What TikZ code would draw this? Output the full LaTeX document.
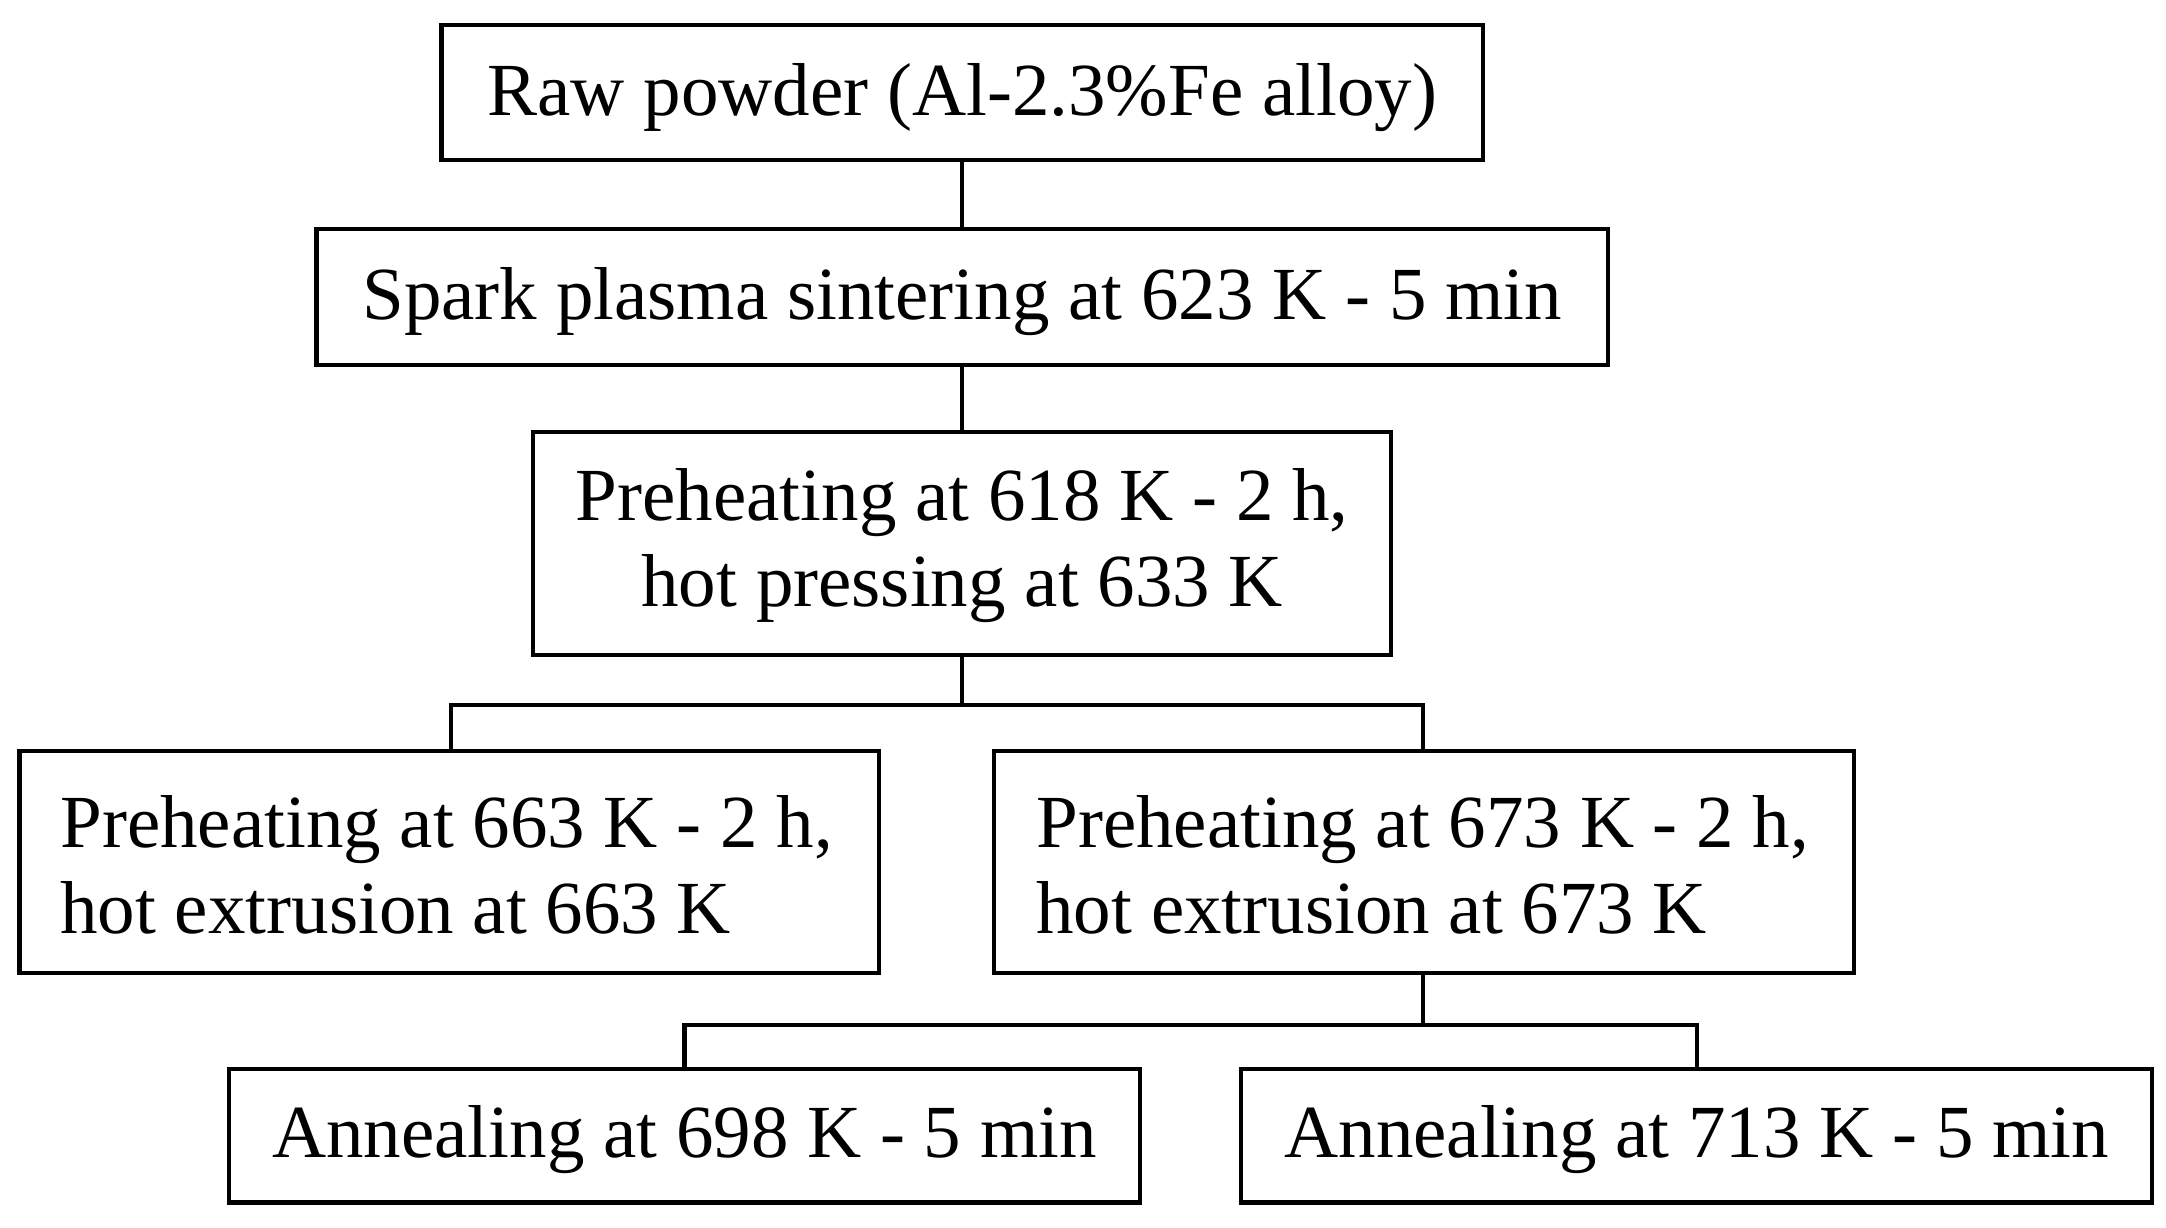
\documentclass[tikz,border=0pt]{standalone}
\usepackage{fontspec}
\setmainfont{Liberation Serif}
\begin{document}
\begin{tikzpicture}[x=1pt,y=-1pt,line width=3pt,
  bx/.style={draw,rectangle,inner sep=0pt},
  txt/.style={font=\fontsize{54}{62}\selectfont,align=left,inner sep=0pt}]
\useasboundingbox (0,0) rectangle (1560,884);
\node[bx,minimum width=750,minimum height=97] (b1) at (693,66.5) {};
\node[txt] at (693,70) {Raw powder (Al-2.3\%Fe alloy)};
\node[bx,minimum width=930,minimum height=98] (b2) at (693,214) {};
\node[txt] at (693,217) {Spark plasma sintering at 623 K - 5 min};
\node[bx,minimum width=618,minimum height=161] (b3) at (693,391.5) {};
\node[txt,align=center] at (693,393) {Preheating at 618 K - 2 h,\\hot pressing at 633 K};
\node[bx,minimum width=619,minimum height=160] (b4) at (323.5,621) {};
\node[txt,anchor=west] at (42,623) {Preheating at 663 K - 2 h,\\hot extrusion at 663 K};
\node[bx,minimum width=619,minimum height=160] (b5) at (1025.5,621) {};
\node[txt,anchor=west] at (745,623) {Preheating at 673 K - 2 h,\\hot extrusion at 673 K};
\node[bx,minimum width=656,minimum height=96] (b6) at (493,818) {};
\node[txt] at (493,821) {Annealing at 698 K - 5 min};
\node[bx,minimum width=656,minimum height=96] (b7) at (1222,818) {};
\node[txt] at (1222,821) {Annealing at 713 K - 5 min};
\coordinate (j1) at (693,508);
\coordinate (j2) at (1025,738);
\draw (b1.south) -- (b2.north);
\draw (b2.south) -- (b3.north);
\draw (b3.south) -- (j1);
\draw (b4.north -| 325,0) |- (j1) -| (b5.north -| 1025,0);
\draw (b5.south -| j2) -- (j2);
\draw (b6.north) |- (j2) -| (b7.north);
\end{tikzpicture}
\end{document}
